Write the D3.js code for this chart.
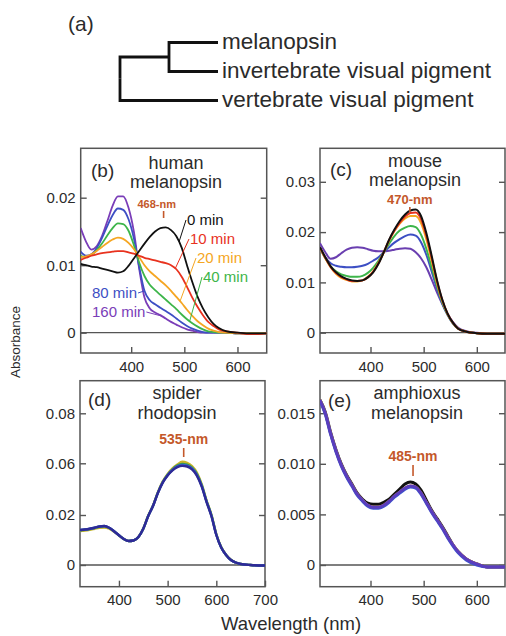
<!DOCTYPE html>
<html>
<head>
<meta charset="utf-8">
<script src="https://d3js.org/d3.v7.min.js"></script>
<style>
  body { margin: 0; background: #fff; }
  svg text { font-family: "Liberation Sans", Arial, sans-serif; fill: #2b2b2b; }
</style>
</head>
<body>
<div id="my_dataviz"></div>
<script>

// ---- (a) tree ----
var treeLeaves = ["melanopsin", "invertebrate visual pigment", "vertebrate visual pigment"];

// ---- wavelength grids (nm) ----
var nmGrid = [305, 315, 325, 335, 345, 355, 365, 375, 385, 395, 405, 415, 425, 435, 445, 455,
              465, 475, 485, 495, 505, 515, 525, 535, 545, 555, 565, 580, 600, 620, 640, 655];
var nmSpider = [320, 330, 340, 350, 360, 370, 380, 390, 400, 410, 420, 430, 440, 450, 460, 470, 480, 490,
                500, 510, 520, 530, 540, 550, 560, 570, 580, 590, 600, 610, 620, 630, 640, 650, 670, 700];

// ---- (b) human melanopsin, irradiation time ----
var humanLabels = ["0 min", "10 min", "20 min", "40 min", "80 min", "160 min"];
var human0   = [.0102,.0100,.0098,.0097,.0095,.0093,.0091,.0089,.0091,.0099,.0110,.0121,.0132,.0142,.0150,.0155,
                .0156,.0152,.0143,.0126,.0100,.0075,.0053,.0036,.0023,.0013,.0007,.0002,.0000,-.0001,-.0001,-.0001];
var human10  = [.0108,.0111,.0114,.0116,.0118,.0119,.0120,.0121,.0121,.0119,.0117,.0114,.0111,.0109,.0107,.0105,
                .0103,.0100,.0094,.0083,.0068,.0052,.0038,.0026,.0016,.0010,.0005,.0002,.0000,-.0002,-.0002,-.0001];
var human20  = [.0112,.0113,.0116,.0121,.0127,.0133,.0138,.0141,.0139,.0133,.0124,.0112,.0100,.0091,.0084,.0077,
                .0070,.0062,.0053,.0044,.0034,.0025,.0017,.0011,.0006,.0003,.0001,.0000,-.0001,-.0001,-.0001,-.0001];
var human40  = [.0114,.0112,.0115,.0122,.0132,.0144,.0155,.0162,.0161,.0151,.0130,.0104,.0084,.0071,.0063,.0056,
                .0049,.0042,.0035,.0027,.0020,.0014,.0009,.0005,.0002,.0001,.0000,.0000,-.0001,-.0001,-.0001,-.0001];
var human80  = [.0120,.0114,.0116,.0125,.0140,.0158,.0174,.0184,.0182,.0168,.0140,.0098,.0062,.0048,.0042,.0037,
                .0032,.0027,.0021,.0015,.0010,.0006,.0003,.0001,.0000,.0000,.0000,.0000,-.0001,-.0001,-.0001,-.0001];
var human160 = [.0155,.0135,.0123,.0128,.0143,.0165,.0188,.0202,.0202,.0185,.0150,.0095,.0052,.0036,.0030,.0026,
                .0021,.0016,.0012,.0008,.0005,.0003,.0001,.0000,.0000,.0000,.0000,.0000,-.0001,-.0001,-.0001,-.0001];

// ---- (c) mouse melanopsin ----
var mouse0   = [.0170,.0150,.0132,.0120,.0112,.0107,.0104,.0103,.0104,.0110,.0120,.0137,.0160,.0185,.0205,.0222,
                .0235,.0243,.0245,.0232,.0198,.0153,.0105,.0066,.0038,.0020,.0008,.0002,-.0001,-.0002,-.0002,-.0002];
var mouse10  = [.0169,.0149,.0131,.0119,.0111,.0106,.0103,.0103,.0104,.0110,.0121,.0138,.0160,.0184,.0203,.0219,
                .0231,.0238,.0239,.0226,.0193,.0149,.0103,.0065,.0038,.0020,.0008,.0002,-.0001,-.0002,-.0002,-.0002];
var mouse20  = [.0168,.0148,.0130,.0117,.0109,.0105,.0102,.0102,.0104,.0111,.0122,.0139,.0160,.0183,.0202,.0217,
                .0227,.0232,.0232,.0218,.0186,.0143,.0099,.0063,.0037,.0019,.0008,.0002,-.0001,-.0002,-.0002,-.0002];
var mouse40  = [.0168,.0148,.0132,.0122,.0116,.0113,.0111,.0111,.0113,.0119,.0129,.0143,.0160,.0177,.0192,.0203,
                .0209,.0212,.0210,.0195,.0167,.0130,.0093,.0060,.0036,.0019,.0008,.0002,-.0001,-.0002,-.0002,-.0002];
var mouse80  = [.0168,.0150,.0138,.0133,.0131,.0130,.0130,.0131,.0133,.0137,.0143,.0150,.0160,.0170,.0179,.0186,
                .0192,.0195,.0193,.0180,.0155,.0122,.0088,.0058,.0035,.0018,.0008,.0002,-.0001,-.0002,-.0002,-.0002];
var mouse160 = [.0178,.0160,.0147,.0150,.0158,.0165,.0169,.0170,.0169,.0166,.0163,.0162,.0162,.0163,.0165,.0167,
                .0168,.0167,.0160,.0148,.0130,.0106,.0080,.0057,.0037,.0021,.0010,.0003,.0000,-.0002,-.0002,-.0002];

// ---- (d) spider rhodopsin ----
var spiderA = [.0136,.0138,.0141,.0145,.0149,.0150,.0145,.0133,.0118,.0104,.0096,.0098,.0112,.0146,.0197,.0274,.0376,.0460,
               .0518,.0560,.0590,.0606,.0602,.0578,.0528,.0438,.0312,.0202,.0124,.0072,.0041,.0021,.0010,.0004,.0000,-.0002];
var spiderB = [.0139,.0141,.0144,.0148,.0153,.0155,.0148,.0135,.0119,.0104,.0096,.0098,.0112,.0145,.0196,.0272,.0373,.0455,
               .0512,.0553,.0582,.0595,.0590,.0567,.0518,.0430,.0307,.0199,.0122,.0071,.0040,.0020,.0010,.0004,.0000,-.0002];
var spiderC = [.0140,.0142,.0145,.0149,.0154,.0156,.0149,.0135,.0119,.0104,.0096,.0098,.0112,.0145,.0195,.0271,.0371,.0452,
               .0508,.0549,.0576,.0587,.0582,.0560,.0511,.0425,.0303,.0197,.0121,.0070,.0040,.0020,.0010,.0004,.0000,-.0002];
var spiderD = [.0140,.0142,.0145,.0149,.0154,.0156,.0149,.0135,.0119,.0104,.0096,.0098,.0112,.0145,.0195,.0270,.0370,.0450,
               .0505,.0545,.0570,.0580,.0575,.0553,.0505,.0420,.0300,.0195,.0120,.0070,.0040,.0020,.0010,.0004,.0000,-.0002];

// ---- (e) amphioxus melanopsin ----
var amphiA = [.0163,.0151,.0131,.0114,.0100,.0089,.0080,.0071,.0065,.0061,.0060,.0060,.0062,.0065,.0070,.0075,
              .0080,.0082,.0080,.0074,.0064,.0054,.0046,.0038,.0029,.0020,.0013,.0006,.0001,-.0002,-.0002,-.0002];
var amphiB = [.0163,.0150,.0130,.0113,.0099,.0088,.0079,.0070,.0064,.0059,.0057,.0057,.0059,.0063,.0068,.0072,
              .0076,.0078,.0077,.0071,.0062,.0053,.0045,.0037,.0028,.0020,.0013,.0006,.0001,-.0002,-.0002,-.0002];
var amphiC = [.0162,.0149,.0129,.0112,.0098,.0087,.0078,.0069,.0063,.0058,.0056,.0056,.0058,.0062,.0067,.0071,
              .0075,.0077,.0076,.0070,.0061,.0052,.0044,.0036,.0027,.0019,.0012,.0005,.0000,-.0002,-.0002,-.0002];
var amphiD = [.0163,.0150,.0130,.0113,.0099,.0088,.0079,.0070,.0064,.0059,.0057,.0057,.0059,.0063,.0068,.0072,
              .0076,.0078,.0077,.0071,.0062,.0053,.0045,.0037,.0028,.0020,.0013,.0006,.0001,-.0002,-.0002,-.0002];

// ---- tick labels ----
var xTicksShort = [400, 500, 600];
var xTicksLong = [400, 500, 600, 700];
var yTicksB = [0, 0.01, 0.02],  yLabelsB = ["0", "0.01", "0.02"];
var yTicksC = [0, 0.01, 0.02, 0.03], yLabelsC = ["0", "0.01", "0.02", "0.03"];
var yTicksD = [0, 0.02, 0.06, 0.08], yLabelsD = ["0", "0.02", "0.06", "0.08"];
var yTicksE = [0, 0.005, 0.010, 0.015], yLabelsE = ["0", "0.005", "0.010", "0.015"];

var timeColors = ["#111111", "#e8321e", "#f5a623", "#3db54a", "#3d4fc4", "#7a3db8"];
var annotColor = "#c4582a";

var svg = d3.select("#my_dataviz")
  .append("svg")
    .attr("width", 506)
    .attr("height", 636);

// ---------- (a) phylogeny ----------
var root = d3.hierarchy({children: [{children: [{name: treeLeaves[0]}, {name: treeLeaves[1]}]}, {name: treeLeaves[2]}]});
d3.cluster().size([87, 98]).separation(function() { return 1; })(root);

var tree = svg.append("g").attr("transform", "translate(120,28)");
tree.selectAll("path")
  .data(root.links())
  .enter().append("path")
    .attr("d", function(d) { return "M" + d.source.y + "," + d.source.x + "V" + d.target.x + "H" + d.target.y; })
    .attr("fill", "none")
    .attr("stroke", "#111")
    .attr("stroke-width", 2.8);
tree.selectAll("text")
  .data(root.leaves())
  .enter().append("text")
    .attr("x", function(d) { return d.y + 4; })
    .attr("y", function(d) { return d.x; })
    .attr("dy", "0.3em")
    .style("font-size", "22.5px")
    .text(function(d) { return d.data.name; });

svg.append("text").attr("x", 68).attr("y", 31).style("font-size", "21px").text("(a)");

// ---------- panel helper ----------
function drawPanel(p) {
  var x = d3.scaleLinear().domain(p.xDomain).range([p.x0, p.x1]);
  var y = d3.scaleLinear().domain(p.yDomain).range(p.yRange);
  var g = svg.append("g");

  g.append("rect")
    .attr("x", p.x0).attr("y", p.y0)
    .attr("width", p.x1 - p.x0).attr("height", p.y1 - p.y0)
    .attr("fill", "none").attr("stroke", "#555").attr("stroke-width", 1.5);

  // zero line
  g.append("line")
    .attr("x1", p.x0).attr("x2", p.x1)
    .attr("y1", y(0)).attr("y2", y(0))
    .attr("stroke", "#555").attr("stroke-width", 1.3);

  var ax = g.append("g").attr("transform", "translate(0," + p.y1 + ")")
    .call(d3.axisBottom(x).tickValues(p.xTicks).tickSize(-6).tickPadding(8).tickFormat(d3.format("d")));
  var ay = g.append("g").attr("transform", "translate(" + p.x0 + ",0)")
    .call(d3.axisLeft(y).tickValues(p.yTicks).tickSize(-6).tickPadding(5)
      .tickFormat(function(d, i) { return p.yLabels[i]; }));
  var ar = g.append("g").attr("transform", "translate(" + p.x1 + ",0)")
    .call(d3.axisRight(y).tickValues(p.yTicks).tickSize(-6).tickFormat(""));
  [ax, ay, ar].forEach(function(a) {
    a.select(".domain").remove();
    a.selectAll(".tick line").attr("stroke", "#555").attr("stroke-width", 1.4);
    a.selectAll("text").style("font-size", "15px").attr("fill", "#2b2b2b")
      .style("font-family", "'Liberation Sans', Arial, sans-serif");
  });

  var line = d3.line()
    .x(function(d) { return x(d[0]); })
    .y(function(d) { return y(d[1]); })
    .curve(d3.curveMonotoneX);

  var clipId = "clip" + p.id;
  svg.append("clipPath").attr("id", clipId).append("rect")
    .attr("x", p.x0).attr("y", p.y0).attr("width", p.x1 - p.x0).attr("height", p.y1 - p.y0);

  g.append("g").attr("clip-path", "url(#" + clipId + ")")
    .selectAll("path.s")
    .data(p.series)
    .enter().append("path")
      .attr("d", function(s) { return line(p.nm.map(function(n, i) { return [n, s.values[i]]; })); })
      .attr("fill", "none")
      .attr("stroke", function(s) { return s.color; })
      .attr("stroke-width", p.lineWidth)
      .attr("stroke-linejoin", "round");

  // titles
  g.append("text").attr("x", p.tagX).attr("y", p.tagY).style("font-size", "19px").text(p.tag);
  p.title.forEach(function(t, i) {
    g.append("text").attr("x", p.titleX).attr("y", p.titleY[i])
      .attr("text-anchor", "middle").style("font-size", "18px").text(t);
  });

  // peak annotation
  g.append("text")
    .attr("x", x(p.peakLabelNm)).attr("y", p.peakY)
    .attr("text-anchor", "middle")
    .style("font-size", p.peakSize + "px").style("font-weight", "bold")
    .style("fill", annotColor)
    .text(p.peakText);
  g.append("line")
    .attr("x1", x(p.peakNm)).attr("x2", x(p.peakNm))
    .attr("y1", p.peakY + p.tick[0]).attr("y2", p.peakY + p.tick[1])
    .attr("stroke", annotColor).attr("stroke-width", 1.6);

  return {x: x, y: y, g: g};
}

// ---------- (b) ----------
var humanSeries = [human160, human80, human40, human20, human10, human0].map(function(v, i) {
  return {values: v, color: timeColors[5 - i]};
});
var pb = drawPanel({
  id: "b", x0: 80.7, x1: 266.7, y0: 148.3, y1: 353,
  xDomain: [305, 655], yDomain: [0, 0.02], yRange: [332.7, 197.7],
  xTicks: xTicksShort, yTicks: yTicksB, yLabels: yLabelsB,
  nm: nmGrid, series: humanSeries, lineWidth: 1.8,
  tag: "(b)", tagX: 91, tagY: 177, title: ["human", "melanopsin"], titleX: 176, titleY: [168.5, 188],
  peakText: "468-nm", peakLabelNm: 448, peakNm: 461, peakY: 208, peakSize: 11, tick: [3, 10]
});

// time labels with leaders (b)
var humanLabelPos = [[187, 225, 490], [190, 244, 483], [197, 263, 492], [203, 282, 510], [92, 298, 425], [92, 317, 458]];
var humanAll = [human0, human10, human20, human40, human80, human160];
humanLabels.forEach(function(lab, i) {
  var pos = humanLabelPos[i];
  var t = pb.g.append("text").attr("x", pos[0]).attr("y", pos[1])
    .style("font-size", "15px").style("fill", timeColors[i]).text(lab);
  var bb = t.node().getBBox();
  var k = d3.bisectLeft(nmGrid, pos[2]);
  var f = (pos[2] - nmGrid[k - 1]) / (nmGrid[k] - nmGrid[k - 1]);
  var v = humanAll[i][k - 1] + f * (humanAll[i][k] - humanAll[i][k - 1]);
  var sx = i < 4 ? bb.x - 1 : bb.x + bb.width + 1;
  pb.g.append("line")
    .attr("x1", sx).attr("y1", pos[1] - 5)
    .attr("x2", pb.x(pos[2])).attr("y2", pb.y(v))
    .attr("stroke", timeColors[i]).attr("stroke-width", 1);
});

// ---------- (c) ----------
var mouseSeries = [mouse160, mouse80, mouse40, mouse20, mouse10, mouse0].map(function(v, i) {
  return {values: v, color: ["#6a3fb0", "#3d4fc4", "#3db54a", "#f5a623", "#e8321e", "#111111"][i]};
});
drawPanel({
  id: "c", x0: 320, x1: 505, y0: 148.3, y1: 353,
  xDomain: [305, 653], yDomain: [0, 0.01], yRange: [332.7, 282.4],
  xTicks: xTicksShort, yTicks: yTicksC, yLabels: yLabelsC,
  nm: nmGrid, series: mouseSeries, lineWidth: 2,
  tag: "(c)", tagX: 330, tagY: 176, title: ["mouse", "melanopsin"], titleX: 415, titleY: [166.5, 186],
  peakText: "470-nm", peakLabelNm: 474, peakNm: 474, peakY: 204, peakSize: 13, tick: [3, 8]
});

// ---------- (d) ----------
var spiderSeries = [spiderA, spiderB, spiderC, spiderD].map(function(v, i) {
  return {values: v, color: ["#c8b42a", "#2f9a55", "#3a5cd0", "#2e2a96"][i]};
});
drawPanel({
  id: "d", x0: 80, x1: 265, y0: 380.7, y1: 586.7,
  xDomain: [320, 700], yDomain: [0, 0.02, 0.06, 0.08], yRange: [565, 515, 463.3, 413.3],
  xTicks: xTicksLong, yTicks: yTicksD, yLabels: yLabelsD,
  nm: nmSpider, series: spiderSeries, lineWidth: 2.4,
  tag: "(d)", tagX: 88, tagY: 406, title: ["spider", "rhodopsin"], titleX: 177, titleY: [399, 418.5],
  peakText: "535-nm", peakLabelNm: 533, peakNm: 533, peakY: 444, peakSize: 14, tick: [4, 13]
});

// ---------- (e) ----------
var amphiSeries = [amphiA, amphiB, amphiC, amphiD].map(function(v, i) {
  return {values: v, color: ["#111111", "#f09a3a", "#3a55d0", "#5a3dbd"][i]};
});
drawPanel({
  id: "e", x0: 320, x1: 505, y0: 380.7, y1: 586.7,
  xDomain: [305, 653], yDomain: [0, 0.005], yRange: [565, 514.4],
  xTicks: xTicksShort, yTicks: yTicksE, yLabels: yLabelsE,
  nm: nmGrid, series: amphiSeries, lineWidth: 3,
  tag: "(e)", tagX: 328, tagY: 407, title: ["amphioxus", "melanopsin"], titleX: 417, titleY: [399, 418.5],
  peakText: "485-nm", peakLabelNm: 480, peakNm: 480, peakY: 461, peakSize: 14, tick: [4, 15]
});

// ---------- axis titles ----------
svg.append("text")
  .attr("transform", "translate(20,342) rotate(-90)")
  .attr("text-anchor", "middle")
  .style("font-size", "13.5px")
  .text("Absorbance");
svg.append("text")
  .attr("x", 291).attr("y", 630)
  .attr("text-anchor", "middle")
  .style("font-size", "18.5px")
  .text("Wavelength (nm)");

</script>
</body>
</html>
